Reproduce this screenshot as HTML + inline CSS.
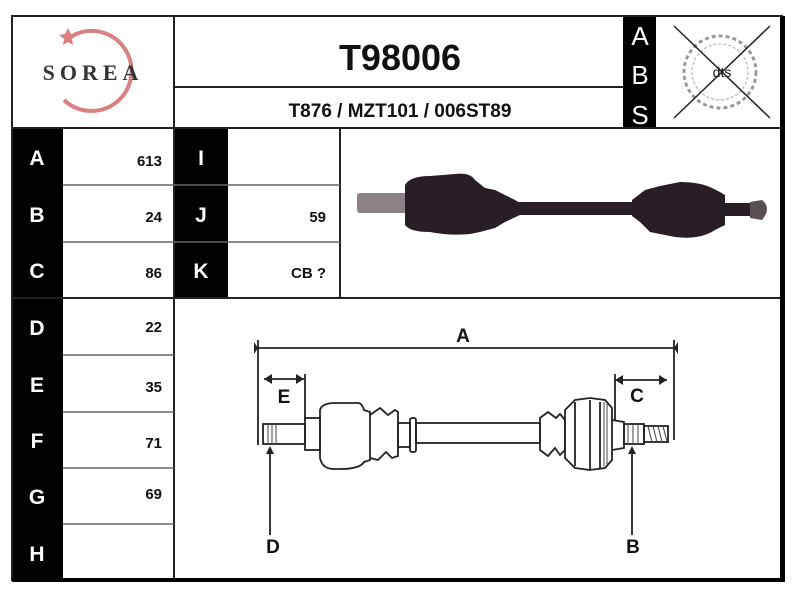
<!DOCTYPE html>
<html><head><meta charset="utf-8"><style>
html,body{margin:0;padding:0;background:#fff;width:800px;height:600px;overflow:hidden}
text{font-family:"Liberation Sans",Arial,sans-serif;font-weight:bold}
</style></head><body>
<svg width="800" height="600" viewBox="0 0 800 600" xmlns="http://www.w3.org/2000/svg">
<rect width="800" height="600" fill="#fff"/>
<rect x="12" y="128" width="51" height="452" fill="#000"/>
<rect x="174" y="128" width="54" height="170" fill="#000"/>
<rect x="623" y="16" width="33" height="112" fill="#000"/>
<g stroke="#222" stroke-width="2" fill="none">
<rect x="12" y="16" width="770" height="564"/>
<line x1="12" y1="128" x2="782" y2="128"/>
<line x1="174" y1="16" x2="174" y2="580"/>
<line x1="174" y1="87" x2="623" y2="87"/>
<line x1="340" y1="128" x2="340" y2="298"/>
<line x1="12" y1="298" x2="782" y2="298"/>
<g stroke="#666" stroke-width="1.5">
<line x1="63" y1="185" x2="340" y2="185"/>
<line x1="63" y1="242" x2="340" y2="242"/>
<line x1="63" y1="355" x2="174" y2="355"/>
<line x1="63" y1="412" x2="174" y2="412"/>
<line x1="63" y1="468" x2="174" y2="468"/>
<line x1="63" y1="524" x2="174" y2="524"/>
</g>
</g>
<rect x="780" y="16" width="5" height="566" fill="#000"/>
<rect x="12" y="578" width="773" height="4" fill="#000"/>
<!-- logo -->
<path d="M72 36 A40 40 0 1 1 64 100" fill="none" stroke="#d98080" stroke-width="4"/>
<path d="M68 28 l3 6 6 1 -5 4 1 6 -5 -3 -5 3 1 -6 -5 -4 6 -1z" fill="#d98080"/>
<text x="93" y="80" font-size="22" text-anchor="middle" letter-spacing="5" fill="#333" style="font-family:'Liberation Serif',serif">SOREA</text>
<text x="400" y="70" font-size="36" text-anchor="middle" fill="#111">T98006</text>
<text x="400" y="117" font-size="19" text-anchor="middle" fill="#111">T876 / MZT101 / 006ST89</text>
<g fill="#fff" font-size="26" text-anchor="middle">
<text x="640" y="45" style="font-weight:normal">A</text>
<text x="640" y="84" style="font-weight:normal">B</text>
<text x="640" y="124" style="font-weight:normal">S</text>
</g>
<circle cx="720" cy="72" r="36" fill="none" stroke="#999" stroke-width="3" stroke-dasharray="4 3"/>
<circle cx="720" cy="72" r="28" fill="none" stroke="#aaa" stroke-width="1" stroke-dasharray="3 2"/>
<line x1="674" y1="26" x2="770" y2="118" stroke="#222" stroke-width="1.5"/>
<line x1="770" y1="26" x2="674" y2="118" stroke="#222" stroke-width="1.5"/>
<text x="722" y="77" font-size="14" text-anchor="middle" fill="#111" style="font-weight:normal">dts</text>
<g fill="#fff" font-size="21" text-anchor="middle">
<text x="37" y="165">A</text><text x="37" y="222">B</text><text x="37" y="278">C</text>
<text x="37" y="335">D</text><text x="37" y="392">E</text><text x="37" y="448">F</text>
<text x="37" y="504">G</text><text x="37" y="561">H</text>
<text x="201" y="165">I</text><text x="201" y="222">J</text><text x="201" y="278">K</text>
</g>
<g fill="#111" font-size="15" text-anchor="end">
<text x="162" y="166">613</text><text x="162" y="222">24</text><text x="162" y="278">86</text>
<text x="162" y="332">22</text><text x="162" y="392">35</text><text x="162" y="448">71</text>
<text x="162" y="499">69</text>
<text x="326" y="222">59</text><text x="326" y="278">CB ?</text>
</g>
<g fill="#2a1e26">
<rect x="357" y="193" width="50" height="20" rx="3" fill="#8a8086"/>
<path d="M405 185 Q410 176 430 176 L455 174 Q470 172 475 180 L485 188 L495 190 L505 195 L515 200 L520 203 L520 215 L505 222 L495 228 L480 232 L470 234 Q450 236 430 232 Q410 232 405 225z"/>
<rect x="518" y="202" width="120" height="13"/>
<path d="M632 200 L645 190 L660 186 L680 182 Q700 182 712 188 L720 192 L725 195 L725 225 L715 230 Q700 240 675 237 L650 232 L640 222 L632 216z"/>
<rect x="722" y="203" width="30" height="13"/>
<path d="M750 202 L762 200 Q772 208 762 220 L750 218z" fill="#5a4e55"/>
</g>
<g stroke="#222" stroke-width="1.8" fill="none">
<line x1="258" y1="348" x2="674" y2="348"/>
<line x1="258" y1="340" x2="258" y2="445"/>
<line x1="674" y1="340" x2="674" y2="440"/>
<line x1="264" y1="379" x2="304" y2="379"/>
<line x1="305" y1="374" x2="305" y2="420"/>
<line x1="615" y1="380" x2="667" y2="380"/>
<line x1="615" y1="374" x2="615" y2="420"/>
<rect x="263" y="424" width="42" height="20"/>
<rect x="305" y="418" width="15" height="32"/>
<path d="M320 410 Q322 403 335 403 L358 403 Q362 403 364 410 L370 412 L370 460 L364 462 Q360 469 340 469 L332 469 Q322 468 320 458z"/>
<path d="M370 415 L380 408 L388 415 L395 410 L398 412 L398 456 L392 458 L386 452 L378 460 L370 458"/>
<rect x="398" y="423" width="12" height="24"/>
<rect x="410" y="418" width="6" height="34" rx="2"/>
<rect x="416" y="423" width="124" height="20"/>
<path d="M540 418 L548 412 L556 418 L560 414 L565 420 L565 450 L560 455 L555 448 L548 456 L540 450z"/>
<path d="M565 410 L575 400 L590 398 L605 400 L612 408 L612 460 L605 468 L590 470 L575 468 L565 458z"/>
<line x1="575" y1="402" x2="575" y2="466"/>
<line x1="590" y1="400" x2="590" y2="470"/>
<line x1="600" y1="402" x2="600" y2="468"/>
<path d="M612 420 L624 422 L624 448 L612 450"/>
<rect x="624" y="424" width="20" height="20"/>
<rect x="644" y="426" width="24" height="16"/>
<line x1="270" y1="452" x2="270" y2="535"/>
<line x1="632" y1="452" x2="632" y2="535"/>
</g>
<g stroke="#444" stroke-width="1">
<line x1="268" y1="424" x2="268" y2="444"/><line x1="272" y1="424" x2="272" y2="444"/><line x1="276" y1="424" x2="276" y2="444"/>
<line x1="628" y1="424" x2="628" y2="444"/><line x1="633" y1="424" x2="633" y2="444"/><line x1="638" y1="424" x2="638" y2="444"/>
<line x1="648" y1="426" x2="652" y2="442"/><line x1="653" y1="426" x2="657" y2="442"/><line x1="658" y1="426" x2="662" y2="442"/><line x1="663" y1="426" x2="667" y2="442"/>
<line x1="604" y1="402" x2="604" y2="466"/><line x1="607" y1="404" x2="607" y2="464"/>
</g>
<g fill="#222">
<path d="M258 348 l-4 -6 0 12z"/><path d="M674 348 l4 -6 0 12z"/>
<path d="M264 379 l8 -5 0 10z"/><path d="M304 379 l-8 -5 0 10z"/>
<path d="M615 380 l8 -5 0 10z"/><path d="M667 380 l-8 -5 0 10z"/>
<path d="M270 446 l-4 8 8 0z"/><path d="M632 446 l-4 8 8 0z"/>
</g>
<g fill="#111" font-size="19" text-anchor="middle">
<text x="463" y="342">A</text><text x="284" y="403">E</text><text x="637" y="402">C</text>
<text x="273" y="553">D</text><text x="633" y="553">B</text>
</g>
</svg>
</body></html>
